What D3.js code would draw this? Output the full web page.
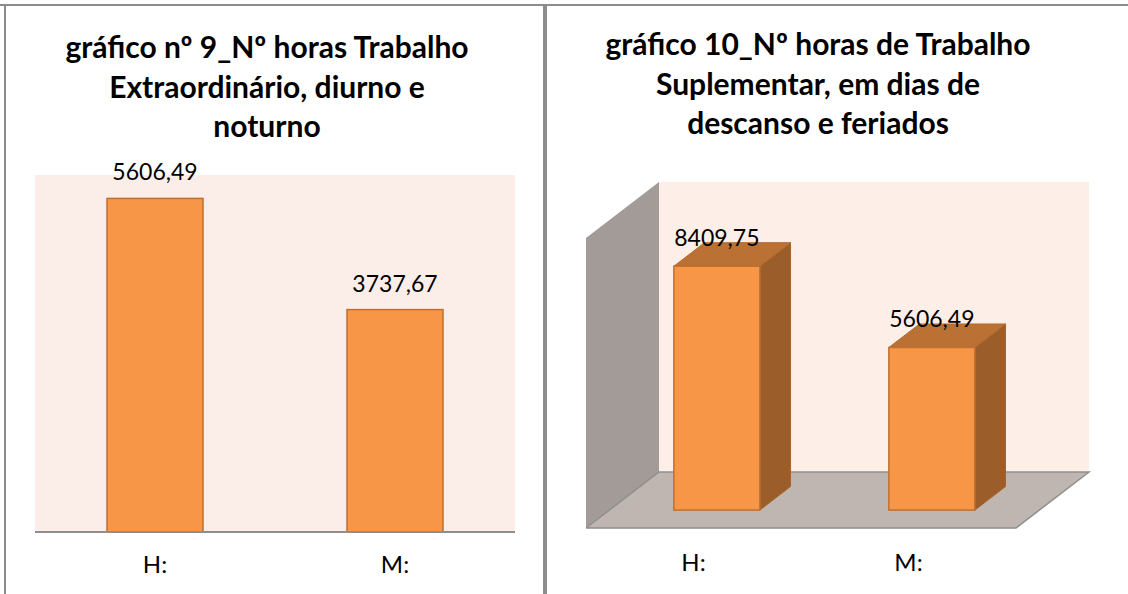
<!DOCTYPE html>
<html>
<head>
<meta charset="UTF-8">
<title>gráficos 9 e 10</title>
<style>
body { margin: 0; background: #fff; }
text { font-family: Lato, "DejaVu Sans", sans-serif; fill: #000; }
.title { font-weight: bold; font-size: 30px; }
.val { font-size: 23px; }
.cat { font-size: 24px; }
</style>
</head>
<body>
<svg width="1128" height="594"></svg>
<script src="https://d3js.org/d3.v7.min.js"></script>
<script>
// data
var cats = ["H:", "M:"];
var vals9 = [5606.49, 3737.67];
var vals10 = [8409.75, 5606.49];
var title9 = ["gráfico nº 9_Nº horas Trabalho", "Extraordinário, diurno e", "noturno"];
var title10 = ["gráfico 10_Nº horas de Trabalho", "Suplementar, em dias de", "descanso e feriados"];

var fmt = function(v) { return v.toFixed(2).replace(".", ","); };

var svg = d3.select("svg");

// frame lines
svg.append("line").attr("x1", 0).attr("x2", 1128).attr("y1", 5).attr("y2", 5)
  .attr("stroke", "#8c8c8c").attr("stroke-width", 2);
svg.append("line").attr("x1", 5).attr("x2", 5).attr("y1", 5).attr("y2", 594)
  .attr("stroke", "#8c8c8c").attr("stroke-width", 2);
svg.append("line").attr("x1", 545).attr("x2", 545).attr("y1", 5).attr("y2", 594)
  .attr("stroke", "#8c8c8c").attr("stroke-width", 4);

function drawTitle(lines, cx, y0) {
  svg.append("g").selectAll("text").data(lines).enter().append("text")
    .attr("class", "title")
    .attr("x", cx)
    .attr("y", function(d, i) { return y0 + i * 39.5; })
    .attr("text-anchor", "middle")
    .text(function(d) { return d; });
}
function pts(a) { return a.map(function(p){ return p.join(","); }).join(" "); }

// ---------- chart 9 (flat bars) ----------
drawTitle(title9, 267, 58);

var x9 = d3.scaleBand().domain(cats).range([35, 515]).paddingInner(0.6).paddingOuter(0.3);
var y9 = d3.scaleLinear().domain([0, 6000]).range([532, 175]);

svg.append("rect")
  .attr("x", x9.range()[0]).attr("y", y9(6000))
  .attr("width", x9.range()[1] - x9.range()[0]).attr("height", y9(0) - y9(6000))
  .attr("fill", "#fbede8");

svg.append("g").selectAll("rect").data(vals9).enter().append("rect")
  .attr("x", function(d, i) { return x9(cats[i]); })
  .attr("y", function(d) { return y9(d); })
  .attr("width", x9.bandwidth())
  .attr("height", function(d) { return y9(0) - y9(d); })
  .attr("fill", "#f79646")
  .attr("stroke", "#c0702e")
  .attr("stroke-width", 1.5);

svg.append("line")
  .attr("x1", x9.range()[0]).attr("x2", x9.range()[1])
  .attr("y1", y9(0)).attr("y2", y9(0))
  .attr("stroke", "#8e8e8e").attr("stroke-width", 2);

svg.append("g").selectAll("text").data(vals9).enter().append("text")
  .attr("class", "val")
  .attr("x", function(d, i) { return x9(cats[i]) + x9.bandwidth() / 2; })
  .attr("y", function(d) { return y9(d) - 18; })
  .attr("text-anchor", "middle")
  .text(fmt);

var ax9 = svg.append("g").attr("transform", "translate(0," + y9(0) + ")")
  .call(d3.axisBottom(x9).tickSize(0).tickPadding(24));
ax9.select(".domain").remove();
ax9.selectAll("text").attr("class", "cat").attr("font-family", null).attr("font-size", null)
  .attr("dy", "0.71em");

// ---------- chart 10 (3D bars) ----------
drawTitle(title10, 818, 55);

var floorY = 528, depthX = 73, depthY = 56;
var x10 = d3.scaleBand().domain(cats).range([586, 1016]).paddingInner(0.6).paddingOuter(0.3);
var h10 = d3.scaleLinear().domain([0, 10000]).range([0, 290]);
var f0 = 0.32, f1 = 0.74;   // bar front / back depth fractions

var fx0 = x10.range()[0], fx1 = x10.range()[1], wallH = h10(10000);

// left side wall
svg.append("polygon")
  .attr("points", pts([[fx0, floorY], [fx0 + depthX, floorY - depthY],
                       [fx0 + depthX, floorY - depthY - wallH], [fx0, floorY - wallH]]))
  .attr("fill", "#a39b98");
// back wall
svg.append("rect")
  .attr("x", fx0 + depthX).attr("y", floorY - depthY - wallH)
  .attr("width", fx1 - fx0).attr("height", wallH)
  .attr("fill", "#fdeee7");
// floor
svg.append("polygon")
  .attr("points", pts([[fx0, floorY], [fx1, floorY], [fx1 + depthX, floorY - depthY], [fx0 + depthX, floorY - depthY]]))
  .attr("fill", "#bfb5b1");
svg.append("polyline")
  .attr("points", pts([[fx0, floorY], [fx1, floorY], [fx1 + depthX, floorY - depthY], [fx0 + depthX, floorY - depthY], [fx0, floorY]]))
  .attr("fill", "none").attr("stroke", "#8f8f8f").attr("stroke-width", 1.5);

var bars = svg.append("g").selectAll("g").data(vals10).enter().append("g");
bars.each(function(d, i) {
  var g = d3.select(this);
  var bx = x10(cats[i]) + f0 * depthX, bw = x10.bandwidth();
  var by = floorY - f0 * depthY;
  var dx = (f1 - f0) * depthX, dy = (f1 - f0) * depthY;
  var ht = h10(d);
  g.append("polygon").attr("points", pts([[bx + bw, by], [bx + bw + dx, by - dy], [bx + bw + dx, by - dy - ht], [bx + bw, by - ht]]))
    .attr("fill", "#9b5e2a").attr("stroke", "#a8642b").attr("stroke-width", 1);
  g.append("polygon").attr("points", pts([[bx, by - ht], [bx + bw, by - ht], [bx + bw + dx, by - dy - ht], [bx + dx, by - dy - ht]]))
    .attr("fill", "#bb7034").attr("stroke", "#b46a2f").attr("stroke-width", 1);
  g.append("rect").attr("x", bx).attr("y", by - ht).attr("width", bw).attr("height", ht)
    .attr("fill", "#f79646").attr("stroke", "#c0702e").attr("stroke-width", 1.5);
  g.append("text").attr("class", "val")
    .attr("x", bx + bw / 2).attr("y", by - ht - 20)
    .attr("text-anchor", "middle").text(fmt(d));
});

var ax10 = svg.append("g").attr("transform", "translate(0," + floorY + ")")
  .call(d3.axisBottom(x10).tickSize(0).tickPadding(26));
ax10.select(".domain").remove();
ax10.selectAll("text").attr("class", "cat").attr("font-family", null).attr("font-size", null)
  .attr("dy", "0.71em");
</script>
</body>
</html>
